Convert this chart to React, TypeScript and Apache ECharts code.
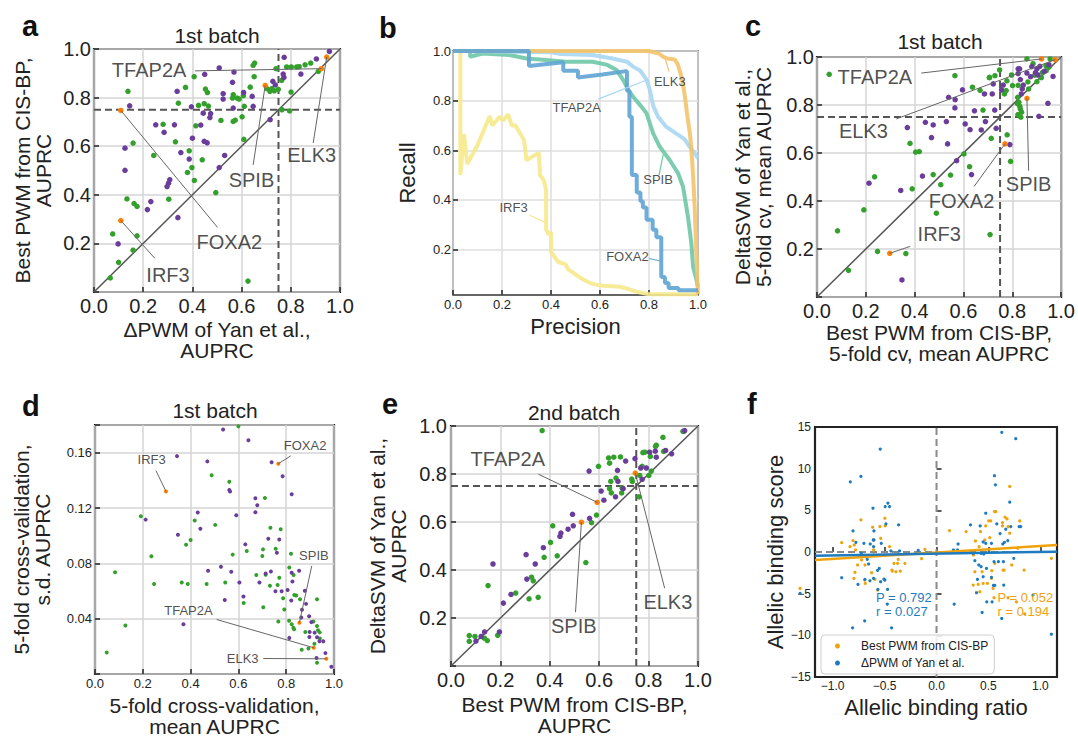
import React, { useEffect, useRef } from 'react';
import * as echarts from 'echarts';

type P = [number, number];

// ---------- Panel a: ΔPWM (x) vs best CIS-BP PWM (y), 1st batch ----------
const aPurple: P[] = [
  [0.957,0.990],[0.904,0.959],[0.773,0.966],[0.509,0.922],[0.569,0.905],[0.450,0.896],[0.769,0.897],[0.772,0.883],
  [0.841,0.897],[0.727,0.867],[0.737,0.852],[0.563,0.863],[0.338,0.826],[0.525,0.816],[0.608,0.821],[0.643,0.805],
  [0.525,0.794],[0.145,0.766],[0.396,0.762],[0.566,0.757],[0.647,0.764],[0.444,0.736],[0.474,0.734],[0.471,0.718],
  [0.716,0.709],[0.251,0.688],[0.327,0.688],[0.434,0.687],[0.285,0.657],[0.400,0.633],[0.448,0.620],[0.460,0.614],
  [0.126,0.592],[0.353,0.574],[0.531,0.562],[0.387,0.547],[0.509,0.512],[0.126,0.501],[0.308,0.462],[0.303,0.448],
  [0.297,0.434],[0.231,0.372],[0.217,0.339],[0.341,0.306],[0.098,0.198]
];
const aGreen: P[] = [
  [0.881,0.942],[0.858,0.935],[0.834,0.927],[0.653,0.942],[0.647,0.933],[0.740,0.919],[0.783,0.926],[0.802,0.926],
  [0.824,0.926],[0.912,0.908],[0.651,0.886],[0.407,0.886],[0.763,0.871],[0.635,0.843],[0.372,0.842],[0.138,0.826],
  [0.453,0.835],[0.461,0.821],[0.566,0.812],[0.703,0.837],[0.715,0.826],[0.723,0.837],[0.733,0.828],[0.749,0.834],
  [0.801,0.823],[0.563,0.798],[0.582,0.798],[0.590,0.794],[0.607,0.808],[0.343,0.777],[0.425,0.768],[0.448,0.775],
  [0.465,0.765],[0.611,0.764],[0.764,0.750],[0.795,0.745],[0.602,0.721],[0.516,0.706],[0.566,0.702],[0.574,0.707],
  [0.281,0.690],[0.414,0.684],[0.331,0.618],[0.159,0.613],[0.609,0.628],[0.387,0.581],[0.243,0.562],[0.440,0.544],
  [0.398,0.512],[0.380,0.492],[0.408,0.459],[0.495,0.409],[0.304,0.382],[0.134,0.383],[0.163,0.364],[0.175,0.352],
  [0.076,0.239],[0.175,0.231],[0.159,0.172],[0.100,0.122],[0.066,0.058],[0.626,0.045]
];
const aHighlight: Record<string, P> = {
  ELK3: [0.946,0.967], TFAP2A: [0.924,0.919], SPIB: [0.696,0.850], FOXA2: [0.109,0.747], IRF3: [0.109,0.294]
};

// ---------- Panel b: precision-recall curves ----------
const bIRF3: P[] = [
  [0.03,1],[0.03,0.5],[0.045,0.665],[0.058,0.545],[0.10,0.62],[0.15,0.738],[0.16,0.70],[0.19,0.735],[0.205,0.72],
  [0.225,0.745],[0.24,0.70],[0.255,0.70],[0.27,0.675],[0.29,0.64],[0.30,0.56],[0.35,0.59],[0.355,0.50],[0.37,0.48],
  [0.38,0.44],[0.38,0.28],[0.39,0.26],[0.40,0.27],[0.40,0.19],[0.43,0.15],[0.46,0.14],[0.47,0.12],[0.50,0.10],
  [0.53,0.08],[0.56,0.065],[0.60,0.055],[0.68,0.05],[0.72,0.04],[0.75,0.03],[0.80,0.02],[1.0,0.02]
];
const bSPIB: P[] = [
  [0.07,1],[0.07,0.977],[0.12,0.99],[0.23,0.984],[0.30,0.97],[0.38,0.964],[0.46,0.957],[0.57,0.957],[0.63,0.944],
  [0.668,0.923],[0.695,0.883],[0.716,0.843],[0.735,0.816],[0.769,0.776],[0.79,0.749],[0.817,0.668],[0.844,0.614],
  [0.885,0.56],[0.919,0.507],[0.939,0.453],[0.959,0.332],[0.973,0.224],[0.98,0.13],[0.991,0.09],[1.0,0.05]
];
const bTFAP2A: P[] = [
  [0,1],[0.40,0.995],[0.44,0.988],[0.57,0.984],[0.65,0.97],[0.71,0.957],[0.735,0.937],[0.765,0.92],[0.79,0.885],
  [0.803,0.845],[0.817,0.78],[0.837,0.735],[0.87,0.695],[0.91,0.668],[0.945,0.645],[0.966,0.614],[0.985,0.59],[1.0,0.567]
];
const bELK3: P[] = [
  [0,1],[0.80,1],[0.84,0.99],[0.86,0.975],[0.875,0.97],[0.905,0.966],[0.918,0.945],[0.93,0.905],[0.94,0.86],
  [0.946,0.82],[0.955,0.75],[0.962,0.70],[0.968,0.66],[0.973,0.60],[0.978,0.53],[0.982,0.46],[0.986,0.38],
  [0.989,0.30],[0.992,0.22],[0.995,0.14],[0.998,0.06],[1.0,0.02]
];
const bFOXA2: P[] = [
  [0,1],[0.31,1],[0.31,0.94],[0.45,0.955],[0.45,0.92],[0.51,0.92],[0.51,0.893],[0.61,0.905],[0.70,0.918],[0.71,0.918],
  [0.71,0.84],[0.72,0.84],[0.72,0.735],[0.73,0.735],[0.73,0.50],[0.75,0.50],[0.75,0.43],[0.765,0.43],[0.765,0.395],
  [0.775,0.395],[0.775,0.37],[0.79,0.37],[0.79,0.32],[0.815,0.32],[0.815,0.28],[0.83,0.28],[0.83,0.25],[0.85,0.25],
  [0.85,0.09],[0.865,0.09],[0.865,0.065],[0.88,0.065],[0.88,0.045],[0.92,0.045],[0.92,0.036],[1.0,0.036]
];

// ---------- Panel c: CIS-BP 5-fold (x) vs DeltaSVM 5-fold (y) ----------
const cGreen: P[] = [
  [0.050,0.928],[0.565,0.922],[0.637,0.874],[0.707,0.915],[0.729,0.922],[0.748,0.946],[0.860,0.992],[0.778,0.901],
  [0.797,0.925],[0.801,0.881],[0.768,0.846],[0.775,0.860],[0.822,0.832],[0.827,0.811],[0.831,0.794],[0.833,0.783],
  [0.835,0.749],[0.867,0.867],[0.901,0.897],[0.924,0.936],[0.938,0.964],[0.955,0.992],[0.939,0.943],[0.779,0.676],
  [0.714,0.661],[0.793,0.565],[0.680,0.779],[0.381,0.640],[0.404,0.604],[0.419,0.606],[0.602,0.596],[0.625,0.543],
  [0.476,0.510],[0.547,0.508],[0.507,0.468],[0.236,0.501],[0.390,0.451],[0.192,0.363],[0.489,0.349],[0.084,0.276],
  [0.709,0.260],[0.248,0.190],[0.364,0.181],[0.129,0.111],[0.885,0.972],[0.892,0.924],[0.919,0.914],[0.864,0.896],
  [0.824,0.882],[0.706,0.914],[0.668,0.861],[0.821,0.806],[0.838,0.770],[0.823,0.760],[0.950,0.958]
];
const cPurple: P[] = [
  [0.824,0.951],[0.830,0.951],[0.824,0.931],[0.833,0.906],[0.901,0.951],[0.913,0.961],[0.931,0.940],[0.860,0.933],
  [0.967,0.919],[0.946,0.807],[0.909,0.753],[0.841,0.867],[0.837,0.846],[0.845,0.883],[0.763,0.883],[0.756,0.863],
  [0.722,0.888],[0.686,0.846],[0.718,0.846],[0.596,0.863],[0.539,0.832],[0.566,0.822],[0.565,0.788],[0.645,0.776],
  [0.728,0.779],[0.444,0.728],[0.476,0.717],[0.530,0.731],[0.607,0.721],[0.690,0.731],[0.370,0.706],[0.627,0.697],
  [0.673,0.696],[0.734,0.703],[0.469,0.664],[0.535,0.638],[0.790,0.635],[0.572,0.568],[0.633,0.510],[0.432,0.504],
  [0.213,0.474],[0.343,0.444],[0.348,0.071],[0.880,0.960],[0.895,0.935],[0.875,0.918],[0.905,0.925],[0.950,0.968]
];
const cHighlight: Record<string, P> = {
  TFAP2A: [0.920,0.992], ELK3: [0.976,0.989], SPIB: [0.860,0.828], FOXA2: [0.770,0.638], IRF3: [0.298,0.182]
};

// ---------- Panel d: 5-fold mean AUPRC (x) vs s.d. (y) ----------
const dPurple: P[] = [
  [0.536,0.1767],[0.642,0.169],[0.343,0.1575],[0.470,0.1537],[0.739,0.153],[0.785,0.143],[0.562,0.133],[0.565,0.132],
  [0.823,0.130],[0.671,0.127],[0.679,0.122],[0.671,0.117],[0.430,0.1167],[0.212,0.1116],[0.591,0.1148],[0.441,0.105],
  [0.347,0.1006],[0.725,0.0978],[0.771,0.0973],[0.629,0.0937],[0.761,0.0877],[0.527,0.0775],[0.473,0.0746],[0.570,0.0739],
  [0.714,0.0727],[0.736,0.0741],[0.543,0.0535],[0.604,0.0662],[0.688,0.0662],[0.621,0.056],[0.755,0.0598],[0.781,0.0598],
  [0.821,0.0531],[0.806,0.0607],[0.826,0.0669],[0.823,0.0732],[0.854,0.0746],[0.878,0.0602],[0.896,0.0418],[0.905,0.0375],
  [0.898,0.0304],[0.919,0.0299],[0.897,0.0268],[0.929,0.0265],[0.939,0.0237],[0.955,0.0237],[0.813,0.0261],[0.964,0.0151],
  [0.927,0.0115],[0.989,0.0053],[0.370,0.0359],[0.866,0.0464],[0.883,0.0507],[0.863,0.0409]
];
const dGreen: P[] = [
  [0.600,0.179],[0.488,0.1437],[0.562,0.1389],[0.711,0.1272],[0.192,0.1140],[0.417,0.1109],[0.503,0.1078],[0.734,0.1057],
  [0.777,0.1047],[0.400,0.0968],[0.381,0.0935],[0.576,0.0863],[0.635,0.0889],[0.703,0.0901],[0.700,0.0853],[0.756,0.0906],
  [0.820,0.087],[0.236,0.0851],[0.084,0.0736],[0.813,0.0770],[0.831,0.0715],[0.675,0.0715],[0.714,0.0717],[0.771,0.0696],
  [0.732,0.0638],[0.764,0.0643],[0.787,0.0547],[0.792,0.0466],[0.834,0.0571],[0.842,0.0567],[0.858,0.054],[0.467,0.065],
  [0.545,0.0662],[0.363,0.0662],[0.388,0.065],[0.247,0.065],[0.622,0.0514],[0.704,0.0483],[0.767,0.038],[0.812,0.0385],
  [0.823,0.0359],[0.830,0.0335],[0.833,0.0323],[0.929,0.054],[0.914,0.038],[0.929,0.0347],[0.933,0.0316],[0.940,0.0301],
  [0.941,0.0256],[0.918,0.0218],[0.865,0.0175],[0.893,0.0184],[0.929,0.0081],[0.127,0.0351],[0.049,0.0155],[0.880,0.0304]
];
const dHighlight: Record<string, P> = {
  IRF3: [0.297,0.132], FOXA2: [0.767,0.152], SPIB: [0.855,0.037], TFAP2A: [0.915,0.019], ELK3: [0.968,0.011]
};

// ---------- Panel e: 2nd batch ----------
const eGreen: P[] = [
  [0.369,0.981],[0.939,0.978],[0.943,0.978],[0.858,0.953],[0.831,0.920],[0.828,0.915],[0.807,0.873],[0.777,0.889],
  [0.785,0.891],[0.861,0.894],[0.638,0.867],[0.642,0.845],[0.659,0.870],[0.686,0.871],[0.597,0.832],[0.647,0.769],
  [0.649,0.721],[0.642,0.739],[0.668,0.783],[0.691,0.721],[0.693,0.742],[0.734,0.769],[0.732,0.779],[0.764,0.794],
  [0.774,0.832],[0.761,0.705],[0.801,0.794],[0.811,0.812],[0.589,0.629],[0.569,0.597],[0.412,0.584],[0.403,0.515],
  [0.377,0.453],[0.430,0.459],[0.546,0.431],[0.326,0.370],[0.333,0.355],[0.150,0.335],[0.262,0.304],[0.316,0.280],
  [0.353,0.286],[0.074,0.127],[0.074,0.103],[0.097,0.123],[0.135,0.116],[0.147,0.106],[0.189,0.128]
];
const ePurple: P[] = [
  [0.946,0.981],[0.893,0.884],[0.869,0.898],[0.827,0.895],[0.804,0.891],[0.831,0.870],[0.745,0.864],[0.707,0.854],
  [0.674,0.815],[0.676,0.769],[0.768,0.825],[0.791,0.825],[0.774,0.778],[0.559,0.812],[0.608,0.729],[0.619,0.691],
  [0.666,0.705],[0.697,0.739],[0.492,0.632],[0.561,0.615],[0.495,0.584],[0.474,0.570],[0.441,0.540],[0.445,0.554],
  [0.374,0.493],[0.304,0.464],[0.341,0.425],[0.307,0.362],[0.170,0.425],[0.243,0.298],[0.212,0.262],[0.196,0.142],
  [0.136,0.142],[0.122,0.123],[0.101,0.104]
];
const eHighlight: Record<string, P> = { TFAP2A: [0.592,0.682], SPIB: [0.528,0.599], ELK3: [0.746,0.804] };

// ---------- Panel f: allelic binding ----------
const fBlue: P[] = [
  [-0.542,12.35],[-0.830,8.42],[-0.728,9.07],[-0.612,5.25],[-0.468,5.86],[-0.452,5.45],[-0.494,5.45],[-0.365,3.25],
  [-0.804,2.53],[-0.776,1.16],[-0.603,2.53],[-0.603,1.44],[-0.487,3.37],[-0.724,-0.16],[-0.913,-3.09],[-1.314,-4.97],
  [-0.756,-3.89],[-0.689,-3.29],[-0.667,-0.88],[-0.654,-1.44],[-0.699,1.04],[-0.638,0.96],[-0.609,1.44],[-0.606,0.64],
  [-0.532,1.04],[-0.551,-1.97],[-0.567,-2.21],[-0.506,-3.25],[-0.497,-3.37],[-0.538,-3.57],[-0.606,-3.17],[-0.641,-3.45],
  [-0.564,-4.49],[-0.471,-4.49],[-0.474,-6.26],[-0.692,-8.26],[-0.808,-9.10],[-0.433,-9.10],[-0.356,0.12],[-0.439,0.12],
  [-0.176,0.2],[0.628,14.36],[0.763,13.60],[0.558,9.15],[0.567,8.06],[0.705,5.98],[0.474,4.65],[0.327,3.25],[0.420,3.13],
  [0.580,3.37],[0.715,3.05],[0.795,3.05],[0.811,3.05],[0.208,0.96],[0.202,0.24],[0.163,0.24],[0.654,1.16],[0.686,1.36],
  [0.638,0.96],[0.612,2.21],[0.667,2.73],[0.449,1.20],[0.474,1.04],[0.529,1.04],[0.353,-0.16],[0.429,-0.16],[0.455,-0.24],
  [0.369,-1.04],[0.407,-1.56],[0.429,-1.76],[0.481,-1.97],[0.449,-2.97],[0.394,-3.29],[0.529,-3.05],[0.561,-4.01],
  [0.548,-4.01],[0.647,-3.97],[0.554,-1.16],[0.596,-1.16],[0.644,-1.16],[0.744,-0.76],[0.484,-5.98],[0.535,-5.98],
  [0.385,-4.89],[0.439,-7.26],[0.170,-6.26],[0.628,-7.98],[1.106,-9.87],[0.929,-5.17]
];
const fOrange: P[] = [
  [-0.913,1.12],[-0.804,1.36],[-0.792,0.84],[-0.833,0.64],[-0.728,3.85],[-0.615,2.97],[-0.545,3.05],[-0.538,1.64],
  [-0.497,4.05],[-0.494,3.13],[-0.452,0.64],[-0.606,1.44],[-0.606,0.24],[-0.603,-0.36],[-0.779,0.24],[-0.721,-0.96],
  [-0.785,-2.45],[-0.795,-3.17],[-0.760,-1.56],[-0.689,-1.56],[-0.692,-3.37],[-0.686,-3.77],[-0.625,-2.49],[-0.593,-3.29],
  [-0.567,-4.57],[-0.429,-2.17],[-0.369,-0.88],[-0.375,-1.36],[-0.410,-1.36],[-0.426,-2.29],[-0.391,-2.37],[-0.349,-2.29],
  [-0.304,-1.36],[-0.144,-0.80],[-0.112,0.32],[-1.314,-4.37],[0.125,2.57],[0.285,2.45],[0.375,1.32],[0.423,2.45],
  [0.474,3.13],[0.503,3.73],[0.522,3.73],[0.558,4.85],[0.571,4.85],[0.660,4.17],[0.679,3.97],[0.705,7.86],[0.705,2.25],
  [0.635,3.53],[0.635,3.13],[0.689,3.05],[0.801,3.73],[0.782,0.44],[0.513,1.72],[0.465,1.44],[0.410,0.64],[0.356,-0.36],
  [0.369,-2.37],[0.439,-2.37],[0.449,-3.77],[0.490,-3.77],[0.532,-2.25],[0.561,-1.36],[0.529,-3.17],[0.545,-4.37],
  [0.641,-2.17],[0.651,-2.17],[0.724,-1.56],[0.353,-3.97],[0.401,-3.89],[0.417,-4.77],[0.554,-5.49],[0.689,-5.49],
  [0.843,-2.17],[1.106,-0.76],[0.769,-5.98],[0.849,-7.42]
];
const fOrangeFit: P[] = [[-1.17,-0.96],[1.16,0.84]];
const fBlueFit: P[] = [[-1.17,-0.44],[1.16,0.04]];
const fStatsBlue = ['P = 0.792', 'r = 0.027'];
const fStatsOrange = ['P = 0.052', 'r = 0.194'];

const recallTicks = [0.2, 0.4, 0.6, 0.8, 1.0];
const ratioTicks = [-1, -0.5, 0, 0.5, 1];

// ---------- layout / style ----------
const FONT = 'Liberation Sans, Arial, Helvetica, sans-serif';
const TXT = '#222';
const GREEN = '#33a02c';
const PURPLE = '#6a3d9a';
const ORANGE = '#ff7f00';
const F_ORANGE = '#f0a20c';
const F_BLUE = '#1f7bc0';

const aLabels = [
  { name: 'TFAP2A', at: [0.224, 0.915], from: [0.41, 0.91] },
  { name: 'ELK3', at: [0.885, 0.565], from: [0.891, 0.613] },
  { name: 'SPIB', at: [0.640, 0.462], from: [0.647, 0.523] },
  { name: 'FOXA2', at: [0.550, 0.207], from: [0.502, 0.266] },
  { name: 'IRF3', at: [0.301, 0.070], from: [0.247, 0.139] },
];
const cLabels = [
  { name: 'TFAP2A', at: [0.237, 0.915], from: [0.427, 0.933] },
  { name: 'ELK3', at: [0.190, 0.693], from: [0.325, 0.742] },
  { name: 'SPIB', at: [0.867, 0.471], from: [0.867, 0.526] },
  { name: 'FOXA2', at: [0.592, 0.401], from: [0.644, 0.461] },
  { name: 'IRF3', at: [0.501, 0.262], from: [0.382, 0.211] },
];
const dLabels = [
  { name: 'IRF3', at: [0.237, 0.155], from: [0.255, 0.147] },
  { name: 'FOXA2', at: [0.879, 0.1654], from: [0.819, 0.1577] },
  { name: 'SPIB', at: [0.916, 0.0858], from: [0.907, 0.0782] },
  { name: 'TFAP2A', at: [0.391, 0.0459], from: [0.509, 0.0394] },
  { name: 'ELK3', at: [0.618, 0.0112], from: [0.704, 0.0112] },
];
const eLabels = [
  { name: 'TFAP2A', at: [0.230, 0.864], from: [0.354, 0.799] },
  { name: 'SPIB', at: [0.497, 0.165], from: [0.504, 0.224] },
  { name: 'ELK3', at: [0.878, 0.265], from: [0.865, 0.324] },
];
const bCurves = [
  { name: 'IRF3', data: bIRF3, color: '#f6e98c', at: [0.247, 0.368], from: [0.312, 0.339], to: [0.376, 0.308] },
  { name: 'SPIB', data: bSPIB, color: '#6ec7a6', at: [0.837, 0.483], from: [0.841, 0.50], to: [0.858, 0.583] },
  { name: 'TFAP2A', data: bTFAP2A, color: '#a9d6f2', at: [0.505, 0.772], from: [0.593, 0.806], to: [0.79, 0.883] },
  { name: 'ELK3', data: bELK3, color: '#f3c36a', at: [0.885, 0.879], from: [0.882, 0.917], to: [0.867, 0.966] },
  { name: 'FOXA2', data: bFOXA2, color: '#5fa4d4', at: [0.712, 0.173], from: [0.80, 0.164], to: [0.851, 0.153] },
];
// left edge and line centres of the stats text in panel f (data coords)
const fStatsX = { blue: -0.583, orange: 0.587 };
const fStatsY = [-5.4, -7.15];

const grids = [
  { left: 94, top: 49, width: 246, height: 243 },
  { left: 453, top: 51, width: 245, height: 244 },
  { left: 817, top: 57, width: 246, height: 240 },
  { left: 95, top: 425, width: 239, height: 249 },
  { left: 451, top: 426, width: 247, height: 240 },
  { left: 815, top: 427, width: 242, height: 250 },
];

const minus = (s: string) => s.replace('-', '\u2212');

function axis(gi: number, o: any) {
  return {
    type: 'value', gridIndex: gi, min: o.min, max: o.max, interval: o.interval,
    name: o.name, nameLocation: 'middle', nameGap: o.nameGap,
    nameTextStyle: { fontSize: o.nfs || 21, lineHeight: o.lh || 21, color: TXT, fontFamily: FONT },
    axisLine: { show: false },
    axisTick: { show: true, inside: true, length: 5, lineStyle: { color: '#222', width: 1.5 }, customValues: o.ticks },
    axisLabel: {
      fontSize: o.fs, margin: o.margin, color: TXT, fontFamily: FONT, formatter: o.fmt,
      customValues: o.ticks, showMinLabel: true, showMaxLabel: true,
    },
    splitLine: { show: o.split !== false, lineStyle: { color: o.splitColor || '#d5d5d5', width: 1.5 } },
  };
}

const f1 = (v: number) => v.toFixed(1);
const f1NoZero = (v: number) => (Math.abs(v) < 1e-9 ? '' : v.toFixed(1));

function ln(gi: number, data: any[], color: string, width: number, type: any = 'solid', z = 2, opacity = 1) {
  return {
    type: 'line', xAxisIndex: gi, yAxisIndex: gi, data, symbol: 'none', silent: true, z,
    lineStyle: { color, width, type, opacity }, animation: false,
  };
}
function pts(gi: number, data: any[], color: string, size: number, z = 3, name?: string, clip = true) {
  return {
    type: 'scatter', name, xAxisIndex: gi, yAxisIndex: gi, data, symbolSize: size, silent: true, z, clip,
    itemStyle: { color, opacity: 1 }, animation: false,
  };
}
function txt(gi: number, at: any, text: string, fontSize: number, color = TXT) {
  return {
    type: 'scatter', xAxisIndex: gi, yAxisIndex: gi, data: [at], symbolSize: 1, silent: true, z: 6,
    itemStyle: { color: 'rgba(0,0,0,0)' },
    label: { show: true, position: 'inside', formatter: text, fontSize, color, fontFamily: FONT, lineHeight: fontSize },
    animation: false,
  };
}

function scatterPanel(gi: number, green: P[], purple: P[], hi: Record<string, P>, labels: any[], fs: number, size: number, refs: boolean) {
  const s: any[] = [];
  if (refs) {
    s.push(ln(gi, [[0, 0], [1, 1]], '#555', 1.5));
    s.push(ln(gi, [[0, 0.75], [1, 0.75]], '#555', 2, [7, 4]));
    s.push(ln(gi, [[0.75, 0], [0.75, 1]], '#555', 2, [7, 4]));
  }
  s.push(pts(gi, green, GREEN, size));
  s.push(pts(gi, purple, PURPLE, size));
  s.push(pts(gi, Object.values(hi), ORANGE, size, 4));
  labels.forEach((l) => {
    s.push(ln(gi, [l.from, hi[l.name]], '#666', 1, 'solid', 5));
    s.push(txt(gi, l.at, l.name, fs));
  });
  return s;
}

export default function App() {
  const ref = useRef<HTMLDivElement>(null);
  useEffect(() => {
    if (!ref.current) return;
    const chart = echarts.init(ref.current, null, { renderer: 'svg' });

    const series: any[] = [
      ...scatterPanel(0, aGreen, aPurple, aHighlight, aLabels, 20, 5.5, true),
      ...scatterPanel(2, cGreen, cPurple, cHighlight, cLabels, 20, 5.5, true),
      ...scatterPanel(3, dGreen, dPurple, dHighlight, dLabels, 13, 4, false),
      ...scatterPanel(4, eGreen, ePurple, eHighlight, eLabels, 20, 5.5, true),
    ];
    bCurves.forEach((c) => series.push(ln(1, c.data, c.color, 4, 'solid', 2, 0.9)));
    bCurves.forEach((c) => {
      series.push(ln(1, [c.from, c.to], c.color, 1.2, 'solid', 4));
      series.push(txt(1, c.at, c.name, 13));
    });
    // panel f
    series.push(ln(5, [[0, -15], [0, 15]], '#8a8a8a', 2, [7, 4], 2));
    series.push(ln(5, [[-1.17, 0], [1.16, 0]], '#8a8a8a', 2, [7, 4], 2));
    series.push(pts(5, fOrange, F_ORANGE, 3.2, 3, 'Best PWM from CIS-BP', false));
    series.push(pts(5, fBlue, F_BLUE, 3.2, 3, '\u0394PWM of Yan et al.', false));
    series.push(ln(5, fOrangeFit, F_ORANGE, 2.5, 'solid', 4));
    series.push(ln(5, fBlueFit, F_BLUE, 2.5, 'solid', 4));

    const xAxis = [
      axis(0, { min: 0, max: 1, interval: 0.2, name: '\u0394PWM of Yan et al.,\nAUPRC', nameGap: 27, fs: 20, margin: 4, fmt: f1 }),
      axis(1, { min: 0, max: 1, interval: 0.2, name: 'Precision', nameGap: 20, nfs: 22, lh: 22, fs: 13, margin: 3, fmt: f1, splitColor: '#dedede' }),
      axis(2, { min: 0, max: 1, interval: 0.2, name: 'Best PWM from CIS-BP,\n5-fold cv, mean AUPRC', nameGap: 22, fs: 20, margin: 4, fmt: f1 }),
      axis(3, { min: 0, max: 1, interval: 0.2, name: '5-fold cross-validation,\nmean AUPRC', nameGap: 21, fs: 13, margin: 3, fmt: f1 }),
      axis(4, { min: 0, max: 1, interval: 0.2, name: 'Best PWM from CIS-BP,\nAUPRC', nameGap: 28, fs: 20, margin: 4, fmt: f1 }),
      axis(5, { min: -1.17, max: 1.16, ticks: ratioTicks, name: 'Allelic binding ratio', nameGap: 19, nfs: 22, lh: 22, fs: 12, margin: 3, fmt: (v: number) => minus(v.toFixed(1)), split: false }),
    ];
    const yAxis = [
      axis(0, { min: 0, max: 1, interval: 0.2, name: 'Best PWM from CIS-BP,\nAUPRC', nameGap: 40, fs: 20, margin: 3, fmt: f1NoZero }),
      axis(1, { min: 0.017, max: 1, ticks: recallTicks, name: 'Recall', nameGap: 35, nfs: 22, lh: 22, fs: 13, margin: 2, fmt: f1, splitColor: '#dedede' }),
      axis(2, { min: 0, max: 1, interval: 0.2, name: 'DeltaSVM of Yan et al.,\n5-fold cv, mean AUPRC', nameGap: 43, fs: 20, margin: 3, fmt: f1NoZero }),
      axis(3, { min: 0, max: 0.18, interval: 0.04, name: '5-fold cross-validation,\ns.d. AUPRC', nameGap: 42, fs: 13, margin: 3, fmt: (v: number) => (v < 0.001 || v > 0.17 ? '' : v.toFixed(2)) }),
      axis(4, { min: 0, max: 1, interval: 0.2, name: 'DeltaSVM of Yan et al.,\nAUPRC', nameGap: 42, fs: 20, margin: 4, fmt: f1NoZero }),
      axis(5, { min: -15, max: 15, interval: 5, name: 'Allelic binding score', nameGap: 29, nfs: 22, lh: 22, fs: 12, margin: 4, fmt: (v: number) => minus(String(v)), split: false }),
    ];

    const letter = (t: string, x: number, y: number) => ({
      type: 'text', x, y, silent: true,
      style: { text: t, font: `bold 29px ${FONT}`, fill: '#111', align: 'left', verticalAlign: 'middle', textAlign: 'left', textVerticalAlign: 'middle' },
    });
    const title = (t: string, x: number, y: number) => ({
      type: 'text', x, y, silent: true,
      style: { text: t, font: `21px ${FONT}`, fill: TXT, align: 'center', verticalAlign: 'middle', textAlign: 'center', textVerticalAlign: 'middle' },
    });

    chart.setOption({
      animation: false,
      textStyle: { fontFamily: FONT },
      grid: grids.map((g, i) => ({
        ...g, show: true, containLabel: false, backgroundColor: 'transparent',
        borderColor: i === 1 ? '#333' : '#222', borderWidth: i === 1 ? 1.5 : 2.2,
      })),
      xAxis, yAxis,
      legend: {
        data: ['Best PWM from CIS-BP', '\u0394PWM of Yan et al.'],
        orient: 'vertical', left: 821, top: 635, itemWidth: 5, itemHeight: 5, itemGap: 5,
        icon: 'circle', padding: [5, 6, 5, 14], borderColor: '#cfcfcf', borderWidth: 1, borderRadius: 4,
        backgroundColor: 'rgba(255,255,255,0.85)',
        textStyle: { fontSize: 12, color: TXT, fontFamily: FONT, padding: [0, 0, 0, 16] },
        selectedMode: false,
      },
      series,
    });

    // stats texts in panel f: one left-aligned text per line, placed through the axis scales
    const stat = (t: string, xv: number, yv: number, fill: string) => {
      const p = chart.convertToPixel({ xAxisIndex: 5, yAxisIndex: 5 }, [xv, yv]) as number[];
      return {
        type: 'text', x: p[0], y: p[1], silent: true, z: 10,
        style: { text: t, font: `13px ${FONT}`, fill, align: 'left', verticalAlign: 'middle', textAlign: 'left', textVerticalAlign: 'middle' },
      };
    };

    chart.setOption({
      graphic: [
        letter('a', 22, 26), letter('b', 379, 28), letter('c', 745, 26),
        letter('d', 22, 406), letter('e', 382, 404), letter('f', 747, 404),
        title('1st batch', 217, 35), title('1st batch', 940, 41),
        title('1st batch', 215, 410), title('2nd batch', 574, 412),
        stat(fStatsBlue[0], fStatsX.blue, fStatsY[0], F_BLUE),
        stat(fStatsBlue[1], fStatsX.blue, fStatsY[1], F_BLUE),
        stat(fStatsOrange[0], fStatsX.orange, fStatsY[0], F_ORANGE),
        stat(fStatsOrange[1], fStatsX.orange, fStatsY[1], F_ORANGE),
      ],
    });
    return () => chart.dispose();
  }, []);
  return <div ref={ref} style={{ position: 'absolute', left: 0, top: 0, width: 1078, height: 738, background: '#fff' }} />;
}
